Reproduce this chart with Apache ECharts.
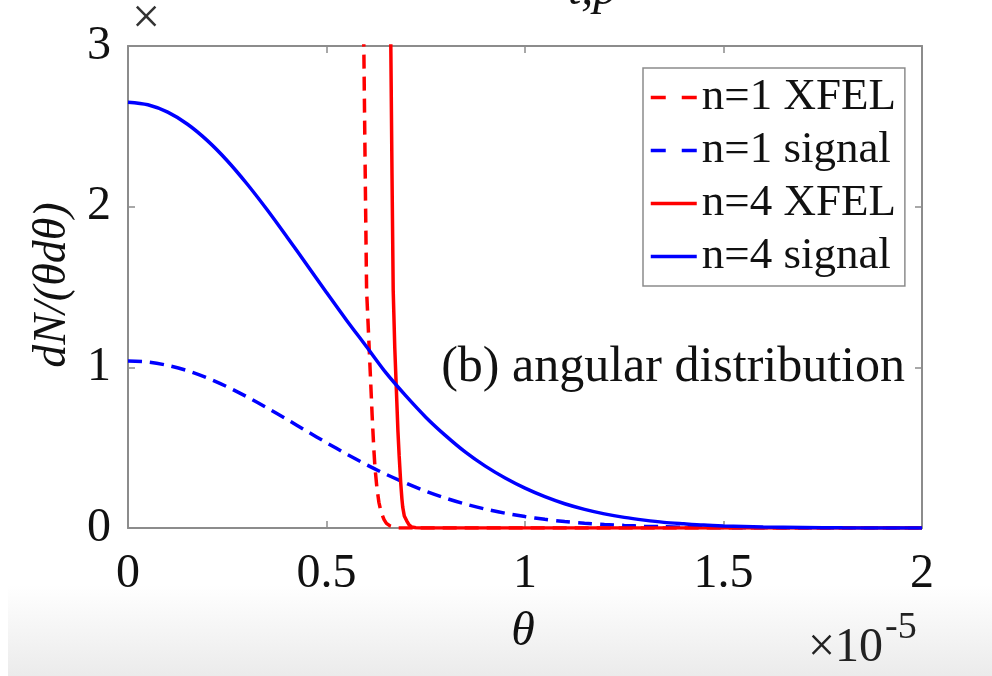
<!DOCTYPE html>
<html>
<head>
<meta charset="utf-8">
<script src="https://cdn.jsdelivr.net/npm/echarts@6/dist/echarts.min.js"></script>
<style>
html,body{margin:0;padding:0;background:#fff;}
#chart{width:992px;height:676px;}
</style>
</head>
<body>
<div id="chart"></div>
<script>
// ---- data (theta in units of 1e-5) ----
var signalTheta = [0, 0.05, 0.1, 0.15, 0.2, 0.25, 0.3, 0.35, 0.4, 0.45, 0.5, 0.55, 0.6, 0.65, 0.7, 0.75, 0.8, 0.85, 0.9, 0.95, 1.0, 1.05, 1.1, 1.15, 1.2, 1.25, 1.3, 1.35, 1.4, 1.45, 1.5, 1.6, 1.7, 1.8, 1.9, 2.0];
var signal1 = [1.04, 1.033, 1.012, 0.979, 0.934, 0.879, 0.816, 0.748, 0.677, 0.603, 0.531, 0.461, 0.395, 0.334, 0.279, 0.229, 0.186, 0.149, 0.118, 0.092, 0.071, 0.054, 0.040, 0.030, 0.022, 0.016, 0.011, 0.008, 0.005, 0.004, 0.0025, 0.0011, 0.0005, 0.0002, 0.0001, 0.0];
var signal4 = [2.65, 2.634, 2.588, 2.513, 2.411, 2.286, 2.141, 1.982, 1.813, 1.640, 1.466, 1.295, 1.131, 0.965, 0.822, 0.690, 0.575, 0.472, 0.385, 0.311, 0.248, 0.195, 0.151, 0.116, 0.088, 0.066, 0.049, 0.035, 0.026, 0.018, 0.013, 0.006, 0.003, 0.001, 0.0005, 0.0002];

var xfel1Theta = [0.580, 0.594, 0.598, 0.601, 0.605, 0.610, 0.615, 0.619, 0.622, 0.627, 0.632, 0.638, 0.645, 0.651, 0.660, 0.670, 0.681, 0.700, 1.0, 1.5, 2.0];
var xfel1 = [5.0, 3.0, 2.1, 1.48, 1.26, 0.98, 0.70, 0.50, 0.38, 0.25, 0.16, 0.095, 0.052, 0.029, 0.013, 0.005, 0.0, 0.0, 0.0, 0.0, 0.0];

var xfel4Theta = [0.655, 0.662, 0.665, 0.668, 0.672, 0.676, 0.680, 0.683, 0.687, 0.690, 0.692, 0.696, 0.702, 0.708, 0.715, 0.725, 0.740, 1.0, 1.5, 2.0];
var xfel4 = [5.0, 3.0, 2.2, 1.48, 1.12, 0.86, 0.60, 0.45, 0.28, 0.18, 0.13, 0.075, 0.045, 0.02, 0.006, 0.001, 0.0, 0.0, 0.0, 0.0];

var seriesNames = ['n=1 XFEL', 'n=1 signal', 'n=4 XFEL', 'n=4 signal'];
var seriesDashed = [true, true, false, false];
var xTicks = {min: 0, max: 2, interval: 0.5};
var yTicks = {min: 0, max: 3, interval: 1};

function pairs(xs, ys) { return xs.map(function (x, i) { return [x, ys[i]]; }); }

var SERIF = '"Liberation Serif", "Times New Roman", serif';
var AX = '#8c8c8c';

var chart = echarts.init(document.getElementById('chart'), null, {renderer: 'canvas'});

function lineSeries(name, data, color, dashed, smooth) {
  return {
    name: name, type: 'line', data: data, symbol: 'none', showSymbol: false, clip: true,
    smooth: smooth, xAxisIndex: 0, yAxisIndex: 0, animation: false,
    lineStyle: {color: color, width: 3.5, type: dashed ? [14, 8] : 'solid'},
    itemStyle: {color: color}
  };
}

var option = {
  animation: false,
  backgroundColor: '#ffffff',
  grid: {left: 128, right: 70, top: 46, bottom: 148, containLabel: false},
  xAxis: [
    {type: 'value', min: xTicks.min, max: xTicks.max, interval: xTicks.interval, position: 'bottom',
     axisLine: {show: true, onZero: false, lineStyle: {color: AX, width: 2}},
     axisTick: {show: true, inside: true, length: 7, lineStyle: {color: AX, width: 1.5}},
     axisLabel: {show: true, margin: 22, color: '#111', fontFamily: SERIF, fontSize: 48},
     splitLine: {show: false}},
    {type: 'value', min: xTicks.min, max: xTicks.max, interval: xTicks.interval, position: 'top',
     axisLine: {show: true, onZero: false, lineStyle: {color: AX, width: 2}},
     axisTick: {show: true, inside: true, length: 7, lineStyle: {color: AX, width: 1.5}},
     axisLabel: {show: false}, splitLine: {show: false}}
  ],
  yAxis: [
    {type: 'value', min: yTicks.min, max: yTicks.max, interval: yTicks.interval, position: 'left',
     axisLine: {show: true, onZero: false, lineStyle: {color: AX, width: 2}},
     axisTick: {show: true, inside: true, length: 7, lineStyle: {color: AX, width: 1.5}},
     axisLabel: {show: true, margin: 17, color: '#111', fontFamily: SERIF, fontSize: 48},
     splitLine: {show: false}},
    {type: 'value', min: yTicks.min, max: yTicks.max, interval: yTicks.interval, position: 'right',
     axisLine: {show: true, onZero: false, lineStyle: {color: AX, width: 2}},
     axisTick: {show: true, inside: true, length: 7, lineStyle: {color: AX, width: 1.5}},
     axisLabel: {show: false}, splitLine: {show: false}}
  ],
  legend: {
    data: seriesNames.map(function (n, i) {
      return seriesDashed[i] ? {name: n, lineStyle: {type: [15, 16], width: 3.5}} : {name: n};
    }),
    orient: 'vertical', left: 643, top: 68,
    backgroundColor: '#ffffff', borderColor: '#8c8c8c', borderWidth: 1.5, borderRadius: 0,
    padding: [7, 9, 7, 6], itemGap: 8, itemWidth: 46, itemHeight: 14,
    itemStyle: {opacity: 0},
    lineStyle: {width: 3.5},
    textStyle: {fontFamily: SERIF, fontSize: 45, color: '#111', lineHeight: 44, padding: [0, 0, 0, 0]}
  },
  graphic: [
    {type: 'rect', z: -10, silent: true, shape: {x: 8, y: 585, width: 984, height: 91},
     style: {fill: new echarts.graphic.LinearGradient(0, 0, 0, 1, [{offset: 0, color: '#ffffff'}, {offset: 1, color: '#ebebeb'}])}},
    {type: 'text', z: 100, x: 568, y: -9, style: {text: 't,p', font: 'italic 48px ' + SERIF, fill: '#111', align: 'left', verticalAlign: 'middle'}},
    {type: 'text', z: 100, x: 146, y: 20, style: {text: '×', font: '50px ' + SERIF, fill: '#333', align: 'center', verticalAlign: 'middle'}},
    {type: 'text', z: 100, x: 53, y: 285, rotation: Math.PI / 2, style: {text: 'dN/(θdθ)', font: 'italic 46px ' + SERIF, fill: '#111', align: 'center', verticalAlign: 'middle'}},
    {type: 'text', z: 100, x: 905, y: 368, style: {text: '(b) angular distribution', font: '50px ' + SERIF, fill: '#111', align: 'right', verticalAlign: 'middle'}},
    {type: 'text', z: 100, x: 523, y: 632, style: {text: 'θ', font: 'italic 48px ' + SERIF, fill: '#111', align: 'center', verticalAlign: 'middle'}},
    {type: 'text', z: 100, x: 883, y: 648, style: {text: '×10', font: '48px ' + SERIF, fill: '#222', align: 'right', verticalAlign: 'middle'}},
    {type: 'text', z: 100, x: 885, y: 628, style: {text: '-5', font: '38px ' + SERIF, fill: '#222', align: 'left', verticalAlign: 'middle'}}
  ],
  series: [
    lineSeries(seriesNames[0], pairs(xfel1Theta, xfel1), '#ff0000', seriesDashed[0], false),
    lineSeries(seriesNames[1], pairs(signalTheta, signal1), '#0000ff', seriesDashed[1], 0.3),
    lineSeries(seriesNames[2], pairs(xfel4Theta, xfel4), '#ff0000', seriesDashed[2], false),
    lineSeries(seriesNames[3], pairs(signalTheta, signal4), '#0000ff', seriesDashed[3], 0.3)
  ]
};
chart.setOption(option);
</script>
</body>
</html>
